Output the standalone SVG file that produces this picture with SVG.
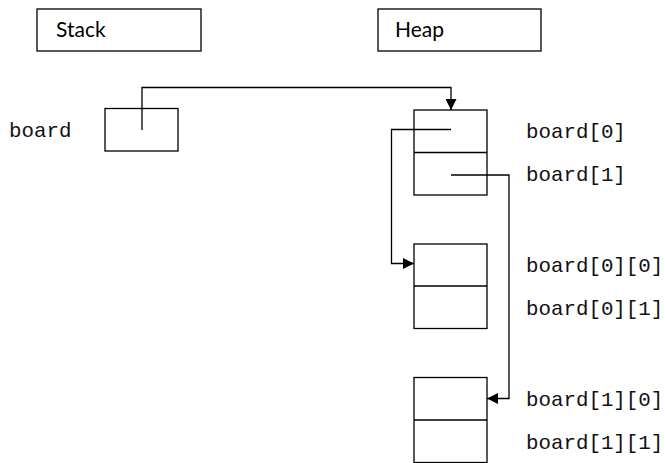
<svg xmlns="http://www.w3.org/2000/svg" width="665" height="463" viewBox="0 0 665 463">
<style>
.box{fill:#fff;stroke:#000;stroke-width:1.3}
.div{stroke:#000;stroke-width:1.3}
.hdr{font-family:Lato,"Open Sans",sans-serif;font-size:21px;fill:#000}
.mono{font-family:"Liberation Mono","Courier New",monospace;font-size:20.8px;fill:#111}
.conn{fill:none;stroke:#000;stroke-width:1.3}
</style>
<defs>
<marker id="arr" viewBox="0 0 10 10" refX="10" refY="5" markerWidth="11" markerHeight="11" markerUnits="userSpaceOnUse" orient="auto">
<path d="M0,0 L10,5 L0,10 Z" fill="#000"/>
</marker>
</defs>
<g id="stack-label">
<rect class="box" x="37" y="9" width="164" height="42"/>
<text class="hdr" x="56" y="37">Stack</text>
</g>
<g id="heap-label">
<rect class="box" x="378" y="9" width="163" height="42"/>
<text class="hdr" x="395" y="37">Heap</text>
</g>
<g id="board-var">
<text class="mono" x="9" y="137">board</text>
<rect class="box" x="105" y="108.5" width="73" height="42.5"/>
</g>
<g id="heap-block-1">
<rect class="box" x="414" y="110" width="73" height="85"/>
<line class="div" x1="414" y1="152.5" x2="487" y2="152.5"/>
<text class="mono" x="526" y="138">board[0]</text>
<text class="mono" x="526" y="181">board[1]</text>
</g>
<g id="heap-block-2">
<rect class="box" x="414" y="244" width="73" height="84.5"/>
<line class="div" x1="414" y1="286" x2="487" y2="286"/>
<text class="mono" x="526" y="272">board[0][0]</text>
<text class="mono" x="526" y="315">board[0][1]</text>
</g>
<g id="heap-block-3">
<rect class="box" x="414" y="377.5" width="73" height="85"/>
<line class="div" x1="414" y1="420" x2="487" y2="420"/>
<text class="mono" x="526" y="406">board[1][0]</text>
<text class="mono" x="526" y="449">board[1][1]</text>
</g>
<g id="connectors">
<polyline class="conn" points="142,130 142,87.5 451,87.5 451,110" marker-end="url(#arr)"/>
<polyline class="conn" points="451,129.5 391.5,129.5 391.5,263.5 414,263.5" marker-end="url(#arr)"/>
<polyline class="conn" points="451,175 509,175 509,398.5 487,398.5" marker-end="url(#arr)"/>
</g>
</svg>
